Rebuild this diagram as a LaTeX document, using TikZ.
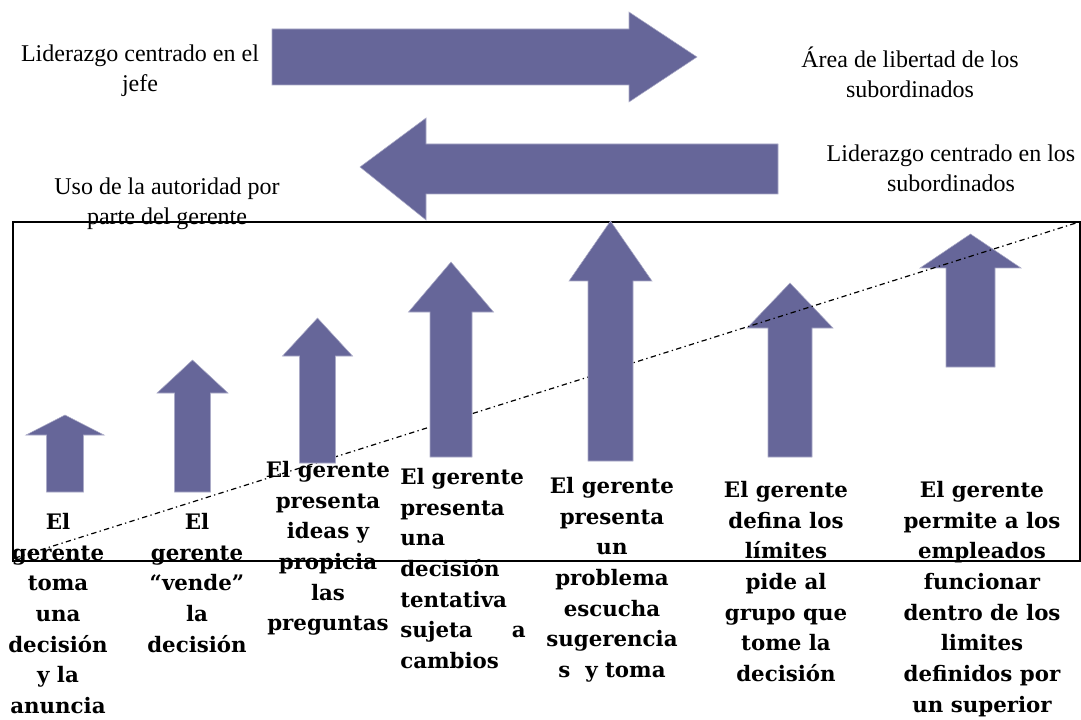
\documentclass[tikz,border=0pt]{standalone}
\usepackage{fontspec}
\setmainfont{Liberation Serif}
\newfontfamily\stepfont{DejaVu Serif}
\usetikzlibrary{positioning}
\definecolor{arrowblue}{RGB}{102,102,153}

\begin{document}
\begin{tikzpicture}[x=0.75pt,y=-0.75pt]
	\tikzset{
		toplabel/.style={align=center, inner sep=0pt, anchor=north, font=\fontsize{18}{22.5}\selectfont},
		steplabel/.style={align=center, inner sep=0pt, anchor=north, font=\stepfont\bfseries\fontsize{16}{23}\selectfont},
		blockarrow/.style={fill=arrowblue, draw=arrowblue!55!white, line width=0.4pt},
		frame/.style={draw=black, line width=0.9pt},
		trend/.style={line width=0.9pt, dash pattern=on 4pt off 2.5pt on 1pt off 2.5pt},
	}
	\useasboundingbox (0,0) rectangle (1081,720);

	% the two wide arrows
	\filldraw[blockarrow] (272,29) -- (629,29) -- (629,12) -- (697,57) -- (629,102) -- (629,85) -- (272,85) -- cycle;
	\filldraw[blockarrow] (778,144) -- (426,144) -- (426,118) -- (360,167) -- (426,220) -- (426,194) -- (778,194) -- cycle;

	\node[toplabel] (jefe) at (140,45) {Liderazgo centrado en el\\jefe};
	\node[toplabel] (libertad) at (910,47) {Área de libertad de los\\subordinados};
	\node[toplabel] (subord) at (951,145) {Liderazgo centrado en los\\subordinados};
	\node[toplabel] (autoridad) at (167,178) {Uso de la autoridad por\\parte del gerente};

	\draw[frame] (13,222) rectangle (1080,561);

	% steps 6 and 7 lie under the line
	\foreach \x/\t/\h/\b/\hw/\bw in {790/283/328/457/43/22, 970.5/234/268/367/50.5/24.5}
		\filldraw[blockarrow] ({\x-\bw},\b) -- ({\x-\bw},\h) -- ({\x-\hw},\h) -- (\x,\t)
			-- ({\x+\hw},\h) -- ({\x+\bw},\h) -- ({\x+\bw},\b) -- cycle;

	\coordinate (lowend) at (15,558);
	\coordinate (highend) at (1076,223);
	\draw[trend] (lowend) -- (highend);

	\foreach \x/\t/\h/\b/\hw/\bw in {65/415/435/492/39/18.5, 192.5/360/393/492/35.5/18,
		317.5/318/356/463/35/18, 451/262/312/457/42.5/21, 610.5/221/281/461/41.5/22.5}
		\filldraw[blockarrow] ({\x-\bw},\b) -- ({\x-\bw},\h) -- ({\x-\hw},\h) -- (\x,\t)
			-- ({\x+\hw},\h) -- ({\x+\bw},\h) -- ({\x+\bw},\b) -- cycle;

	% step texts
	\node[steplabel] (col1) at (58,513) {El\\gerente\\toma\\una\\decisión\\y la\\anuncia};
	\node[steplabel] (col2) at (197,513) {El\\gerente\\“vende”\\la\\decisión};
	\node[steplabel] (col3) at (328,461) {El gerente\\presenta\\ideas y\\propicia\\las\\preguntas};
	\node[steplabel, anchor=north west, align=left, text width=94pt] (col4) at (400,468)
		{El gerente\\presenta\\una\\decisión\\tentativa\\sujeta\hfill a\\cambios};
	\node[steplabel] (col5) at (612,477) {El gerente\\presenta\\un\\problema\\escucha\\sugerencia\\s~~y toma};
	\node[steplabel] (col6) at (786,481) {El gerente\\defina los\\límites\\pide al\\grupo que\\tome la\\decisión};
	\node[steplabel] (col7) at (982,481) {El gerente\\permite a los\\empleados\\funcionar\\dentro de los\\limites\\definidos por\\un superior};
\end{tikzpicture}
\end{document}
